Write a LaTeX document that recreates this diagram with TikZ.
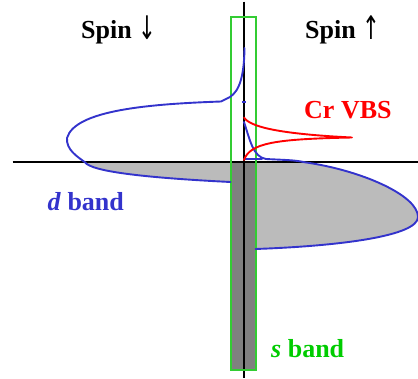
\documentclass[tikz,border=0pt]{standalone}
\usepackage{fontspec}
\setmainfont{Liberation Serif}
\newfontfamily\arrowfont{DejaVu Sans}
\newcommand{\myarr}[1]{\raisebox{-1pt}{\scalebox{0.85}[1.3]{\arrowfont\fontsize{25}{30}\selectfont\mdseries #1}}}
\definecolor{dblue}{RGB}{51,51,204}
\definecolor{sgreen}{RGB}{0,204,0}
\definecolor{rgreen}{RGB}{51,204,51}
\definecolor{lgray}{RGB}{187,187,187}
\definecolor{dgray}{RGB}{128,128,128}
\tikzset{
  curve/.style={line width=1.9pt, line join=round, line cap=round},
  axisline/.style={line width=2.2pt, black},
  lbl/.style={inner sep=0pt, anchor=base west, font=\fontsize{26}{30}\selectfont\bfseries}
}
\begin{document}
\begin{tikzpicture}[x=1pt,y=-1pt]
\useasboundingbox (0,0) rectangle (418,378);
% light gray fills
\fill[lgray] (85,162.3) .. controls (92,172) and (150,178) .. (230.5,182) -- (230.5,162.3) -- cycle;
\fill[lgray] (255.5,162.3) -- (305,162.3) .. controls (360,170) and (418,195) .. (418,217)
  .. controls (418,236) and (340,246) .. (255.5,249) -- cycle;
% s band fill
\fill[dgray] (230.5,162.3) rectangle (255.5,369.5);
% axes
\coordinate (htl) at (12.7,162.3);
\coordinate (htr) at (418,162.3);
\coordinate (vtt) at (244,1.5);
\coordinate (vtb) at (244,378);
\draw[axisline] (htl) -- (htr);
\draw[axisline] (vtt) -- (vtb);
% green rectangle
\draw[rgreen, line width=2pt] (230.5,16.7) rectangle (255.5,369.5);
% spin down d band
\draw[dblue, curve] (244.5,48) .. controls (244,85) and (236,95) .. (226,99) -- (221,101.5)
  .. controls (150,104) and (75,110) .. (67,138)
  .. controls (66,150) and (78,157) .. (85,162.3)
  .. controls (92,172) and (150,178) .. (230.5,182);
\draw[dblue, line width=1.5pt] (242,102) -- (245.5,102);
% spin up d band
\draw[dblue, curve] (244,122) .. controls (250,140) and (253,157) .. (266,159)
  .. controls (285,160) and (295,160) .. (305,162.3)
  .. controls (360,170) and (418,195) .. (418,217)
  .. controls (418,236) and (340,246) .. (255.5,249);
\draw[dblue, curve] (244,159.3) -- (262,159.3);
% Cr VBS
\draw[red, curve] (244,117.5) .. controls (250,127) and (280,134) .. (352,137.5)
  .. controls (275,139) and (250,143) .. (244,160);
% labels
\node[lbl] (sd) at (81,38.3) {Spin \myarr{↓}};
\node[lbl] (su) at (305,38.3) {Spin \myarr{↑}};
\node[lbl, text=red] (cr) at (304,118) {Cr VBS};
\node[lbl, text=dblue] (db) at (47.5,210) {\textit{d} band};
\node[lbl, text=sgreen] (sb) at (271,357) {\textit{s} band};
\end{tikzpicture}
\end{document}
